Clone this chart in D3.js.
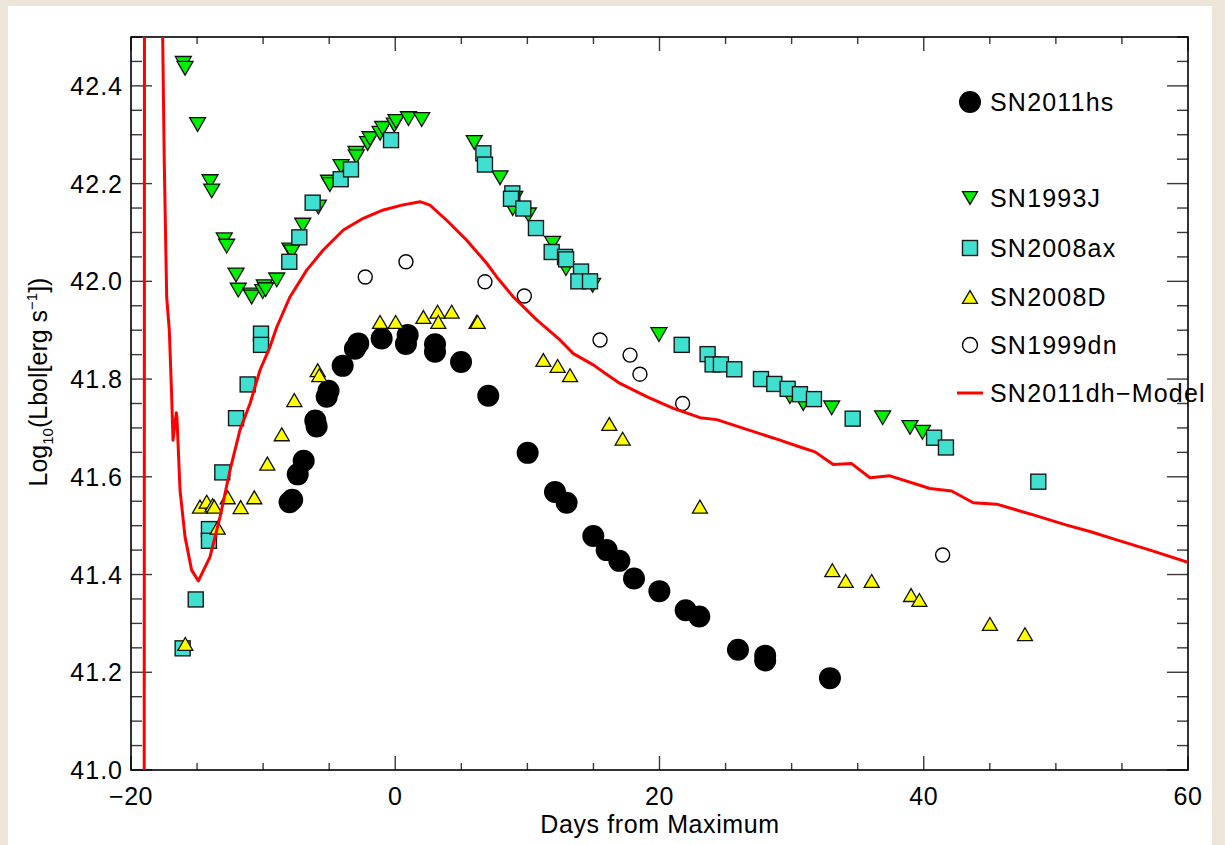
<!DOCTYPE html>
<html>
<head>
<meta charset="utf-8">
<script src="https://cdn.jsdelivr.net/npm/d3@7"></script>
<style>
  html, body { margin: 0; padding: 0; background: #ece5d8; }
  svg { display: block; }
  text { font-family: "Liberation Sans", Arial, Helvetica, sans-serif; fill: #000; }
</style>
</head>
<body>
<svg id="chart" width="1225" height="845"></svg>
<script>
// ---------------- DATA ----------------
const xTicks = [-20, 0, 20, 40, 60];
const xTickLabels = ["\u221220", "0", "20", "40", "60"];
const yTicks = [41.0, 41.2, 41.4, 41.6, 41.8, 42.0, 42.2, 42.4];
const yTickLabels = ["41.0", "41.2", "41.4", "41.6", "41.8", "42.0", "42.2", "42.4"];

const legendLabels = ["SN2011hs", "SN1993J", "SN2008ax", "SN2008D", "SN1999dn", "SN2011dh\u2212Model"];

const sn2011hsDays = [-8.0,-7.8,-7.38,-6.93,-6.05,-5.95,-5.19,-5.05,-3.98,-3.05,-2.8,-1.03,0.81,0.94,3.01,3.01,4.98,7.04,10.02,12.09,12.97,14.99,16.0,16.96,18.07,19.99,21.98,23.01,25.94,28.0,28.0,32.9];
const sn2011hsLum  = [41.548,41.553,41.605,41.633,41.715,41.703,41.764,41.776,41.827,41.862,41.873,41.883,41.872,41.89,41.871,41.856,41.835,41.766,41.649,41.569,41.547,41.479,41.45,41.428,41.392,41.366,41.327,41.314,41.246,41.234,41.224,41.188];

const sn1993jDays = [-16.04,-15.91,-14.96,-14.02,-13.89,-12.94,-12.76,-12.05,-11.88,-10.92,-10.87,-10.03,-9.91,-9.81,-8.97,-7.97,-7.84,-7.0,-5.82,-5.05,-4.95,-4.1,-2.97,-2.95,-2.09,-1.91,-1.15,-0.95,-0.07,0.06,1.0,2.0,5.98,7.93,8.89,9.05,10.08,11.91,12.92,14.94,19.96,29.87,30.88,33.03,36.89,38.96,39.9];
const sn1993jLum  = [42.446,42.436,42.321,42.204,42.185,42.085,42.072,42.013,41.982,41.972,41.968,41.979,41.989,41.983,42.003,42.064,42.06,42.115,42.152,42.203,42.198,42.235,42.262,42.255,42.282,42.292,42.303,42.313,42.32,42.327,42.333,42.331,42.284,42.212,42.149,42.17,42.136,42.078,42.026,41.992,41.891,41.764,41.75,41.741,41.721,41.701,41.691];

const sn2008axDays = [-16.09,-15.1,-14.1,-14.1,-13.09,-12.05,-11.17,-10.16,-10.16,-8.02,-7.26,-6.25,-4.13,-3.35,-0.32,6.67,6.79,8.86,8.76,9.69,10.65,11.84,12.85,12.93,14.06,13.86,14.74,21.68,23.64,24.02,24.65,25.66,27.68,28.69,29.7,30.63,31.69,34.62,40.78,41.68,48.67];
const sn2008axLum  = [41.249,41.349,41.493,41.469,41.609,41.72,41.789,41.893,41.87,42.04,42.09,42.161,42.209,42.229,42.289,42.262,42.239,42.18,42.169,42.149,42.109,42.06,42.05,42.045,42.02,42.0,42.0,41.87,41.851,41.83,41.83,41.82,41.80,41.79,41.78,41.769,41.759,41.719,41.68,41.66,41.59];

const sn2008dDays = [-15.89,-14.78,-14.27,-13.82,-13.7,-13.44,-12.68,-11.7,-10.67,-9.68,-8.59,-7.64,-5.87,-5.75,-1.15,0.03,2.13,3.2,3.26,4.27,6.16,6.24,11.21,12.29,13.23,16.2,17.21,23.06,33.08,34.09,36.06,39.04,39.67,45.01,47.66];
const sn2008dLum  = [41.258,41.539,41.549,41.542,41.539,41.496,41.558,41.538,41.558,41.627,41.687,41.757,41.818,41.808,41.917,41.917,41.927,41.938,41.917,41.938,41.917,41.917,41.839,41.827,41.808,41.708,41.678,41.539,41.409,41.387,41.387,41.358,41.348,41.299,41.278];

const sn1999dnDays = [-2.27,0.81,6.79,9.77,15.5,17.77,18.52,21.75,41.43];
const sn1999dnLum  = [42.009,42.04,41.999,41.97,41.88,41.849,41.81,41.75,41.44];

const modelDays = [-19.0,-18.98,-18.3,-17.65,-17.48,-17.3,-17.1,-16.92,-16.82,-16.57,-16.52,-16.29,-15.91,-15.41,-14.9,-14.02,-13.26,-12.5,-11.75,-10.99,-10.24,-9.48,-8.97,-7.97,-6.7,-5.45,-3.93,-2.42,-0.9,0.5,1.87,2.63,3.89,5.41,6.92,7.68,8.94,10.71,12.47,13.48,14.99,15.88,17.01,19.03,21.05,23.07,24.33,26.6,29.12,30.63,31.77,33.15,34.54,35.93,37.44,40.47,42.11,43.75,45.52,48.29,50.82,52.58,54.6,57.13,60.0];
const modelLum  = [40.9,42.6,43.2,42.6,42.241,41.968,41.9,41.764,41.675,41.731,41.72,41.573,41.477,41.409,41.387,41.436,41.518,41.614,41.696,41.75,41.818,41.866,41.906,41.968,42.023,42.064,42.105,42.129,42.146,42.156,42.163,42.156,42.125,42.084,42.037,42.009,41.968,41.921,41.88,41.852,41.829,41.812,41.791,41.764,41.74,41.721,41.717,41.697,41.675,41.661,41.651,41.625,41.627,41.598,41.602,41.576,41.571,41.547,41.544,41.522,41.501,41.488,41.471,41.45,41.425];

// ---------------- LAYOUT ----------------
const svg = d3.select("#chart");
const L = 131, R = 1188, T = 37, B = 770;
const x = d3.scaleLinear().domain([-20, 60]).range([L, R]);
const y = d3.scaleLinear().domain([41.0, 42.5]).range([B, T]);

// page background / white panel
svg.append("rect").attr("x", 0).attr("y", 0).attr("width", 1225).attr("height", 845).attr("fill", "#ece5d8");
svg.append("rect").attr("x", 8).attr("y", 6).attr("width", 1204).attr("height", 845).attr("fill", "#ffffff");

svg.append("defs").append("clipPath").attr("id", "plotclip")
  .append("rect").attr("x", L).attr("y", T).attr("width", R - L).attr("height", B - T);

// ---------------- AXES ----------------
const tickColor = "#3a3a3a";
const xMinor = d3.range(-20, 60.001, 5);
const yMinor = d3.range(0, 31).map(i => 41.0 + i * 0.05);

const axG = svg.append("g");
// bottom & top x ticks
function xTicksAt(yBase, dir) {
  axG.selectAll(null).data(xMinor).enter().append("line")
    .attr("x1", d => x(d)).attr("x2", d => x(d))
    .attr("y1", yBase)
    .attr("y2", d => yBase + dir * (Math.abs(d % 20) < 1e-6 ? 14 : 7))
    .attr("stroke", tickColor).attr("stroke-width", 1.4);
}
xTicksAt(B, -1);
xTicksAt(T, 1);
function yTicksAt(xBase, dir) {
  axG.selectAll(null).data(yMinor).enter().append("line")
    .attr("y1", d => y(d)).attr("y2", d => y(d))
    .attr("x1", xBase)
    .attr("x2", (d, i) => xBase + dir * (i % 4 === 0 ? 21 : 11))
    .attr("stroke", tickColor).attr("stroke-width", 1.4);
}
yTicksAt(L, 1);
yTicksAt(R, -1);

axG.append("rect").attr("x", L).attr("y", T).attr("width", R - L).attr("height", B - T)
  .attr("fill", "none").attr("stroke", "#000").attr("stroke-width", 1.6);

// tick labels
axG.selectAll(null).data(xTicks).enter().append("text")
  .attr("x", d => x(d)).attr("y", 805)
  .attr("text-anchor", "middle").attr("font-size", 25).attr("letter-spacing", 0.5)
  .text((d, i) => xTickLabels[i]);
axG.selectAll(null).data(yTicks).enter().append("text")
  .attr("x", 123).attr("y", d => y(d) + 9)
  .attr("text-anchor", "end").attr("font-size", 25).attr("letter-spacing", 1)
  .text((d, i) => yTickLabels[i]);

// axis titles
svg.append("text").attr("x", 660).attr("y", 833).attr("text-anchor", "middle")
  .attr("font-size", 25).attr("letter-spacing", 0.6).text("Days from Maximum");

const yt = svg.append("text").attr("transform", "translate(47,382) rotate(-90)")
  .attr("text-anchor", "middle").attr("font-size", 25);
yt.append("tspan").text("Log");
yt.append("tspan").attr("font-size", 15).attr("dy", 6).text("10");
yt.append("tspan").attr("dy", -6).text("(Lbol[erg s");
yt.append("tspan").attr("font-size", 15).attr("dy", -10).text("\u22121");
yt.append("tspan").attr("dy", 10).text("])");

// ---------------- MARKS ----------------
const plot = svg.append("g").attr("clip-path", "url(#plotclip)");

function zip(a, b) { return a.map((d, i) => [d, b[i]]); }

const triDown = (s) => `M${-s/2},${-s*0.43}L${s/2},${-s*0.43}L0,${s*0.43}Z`;
const triUp = (s) => `M${-s/2},${s*0.43}L${s/2},${s*0.43}L0,${-s*0.43}Z`;

// SN2011hs filled black circles
plot.selectAll(null).data(zip(sn2011hsDays, sn2011hsLum)).enter().append("circle")
  .attr("cx", d => x(d[0])).attr("cy", d => y(d[1])).attr("r", 11).attr("fill", "#000");

// SN1993J green down triangles
plot.selectAll(null).data(zip(sn1993jDays, sn1993jLum)).enter().append("path")
  .attr("transform", d => `translate(${x(d[0])},${y(d[1])})`)
  .attr("d", triDown(16)).attr("fill", "#00f000").attr("stroke", "#111").attr("stroke-width", 1.3);

// SN2008ax turquoise squares
plot.selectAll(null).data(zip(sn2008axDays, sn2008axLum)).enter().append("rect")
  .attr("x", d => x(d[0]) - 7.5).attr("y", d => y(d[1]) - 7.5).attr("width", 15).attr("height", 15)
  .attr("fill", "#40e0d0").attr("stroke", "#1a1a1a").attr("stroke-width", 1.4);

// SN2008D yellow up triangles
plot.selectAll(null).data(zip(sn2008dDays, sn2008dLum)).enter().append("path")
  .attr("transform", d => `translate(${x(d[0])},${y(d[1])})`)
  .attr("d", triUp(15)).attr("fill", "#ffff00").attr("stroke", "#111").attr("stroke-width", 1.3);

// SN1999dn open circles
plot.selectAll(null).data(zip(sn1999dnDays, sn1999dnLum)).enter().append("circle")
  .attr("cx", d => x(d[0])).attr("cy", d => y(d[1])).attr("r", 7)
  .attr("fill", "none").attr("stroke", "#000").attr("stroke-width", 1.4);

// SN2011dh model line
const line = d3.line().x(d => x(d[0])).y(d => y(d[1]));
plot.append("path").datum(zip(modelDays, modelLum))
  .attr("d", line).attr("fill", "none").attr("stroke", "#ff0000").attr("stroke-width", 3)
  .attr("stroke-linejoin", "round");

// ---------------- LEGEND ----------------
const lg = svg.append("g");
const lx = 970, ltx = 990;
const lys = [102, 198, 248, 297, 345, 393];
lg.append("circle").attr("cx", lx).attr("cy", lys[0]).attr("r", 11).attr("fill", "#000");
lg.append("path").attr("transform", `translate(${lx},${lys[1]})`).attr("d", triDown(15))
  .attr("fill", "#00f000").attr("stroke", "#111").attr("stroke-width", 1.3);
lg.append("rect").attr("x", lx - 7.5).attr("y", lys[2] - 7.5).attr("width", 15).attr("height", 15)
  .attr("fill", "#40e0d0").attr("stroke", "#1a1a1a").attr("stroke-width", 1.4);
lg.append("path").attr("transform", `translate(${lx},${lys[3]})`).attr("d", triUp(15))
  .attr("fill", "#ffff00").attr("stroke", "#111").attr("stroke-width", 1.3);
lg.append("circle").attr("cx", lx).attr("cy", lys[4]).attr("r", 7.5)
  .attr("fill", "none").attr("stroke", "#000").attr("stroke-width", 1.4);
lg.append("line").attr("x1", 957).attr("x2", 983).attr("y1", lys[5]).attr("y2", lys[5])
  .attr("stroke", "#ff0000").attr("stroke-width", 3);
lg.selectAll(null).data(legendLabels).enter().append("text")
  .attr("x", ltx).attr("y", (d, i) => lys[i] + 9)
  .attr("font-size", 25).attr("letter-spacing", 1.2)
  .text(d => d);
</script>
</body>
</html>
